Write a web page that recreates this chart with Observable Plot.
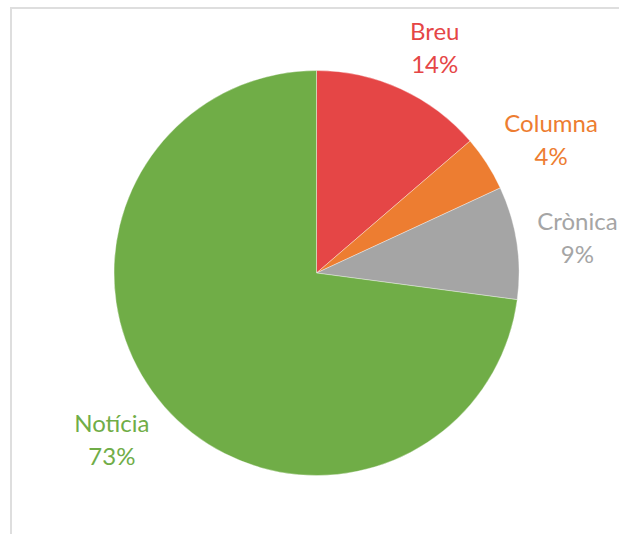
<!DOCTYPE html>
<html>
<head>
<meta charset="utf-8">
<script src="https://cdn.jsdelivr.net/npm/d3@7"></script>
<script src="https://cdn.jsdelivr.net/npm/@observablehq/plot@0.6"></script>
<style>
  html, body { margin: 0; padding: 0; background: #fff; }
  #wrap { position: relative; width: 619px; height: 534px; overflow: hidden; }
  #frame { position: absolute; left: 10px; top: 7px; right: -5px; bottom: -5px;
           border-top: 2px solid #dedede; border-left: 2px solid #dedede; pointer-events: none; }
  #chart { position: absolute; left: 0; top: 0; }
</style>
</head>
<body>
<div id="wrap"><div id="chart"></div><div id="frame"></div></div>
<script>
// ---- data ----
const categories = ["Breu", "Columna", "Crònica", "Notícia"];
const shares = [13.7, 4.4, 9.0, 72.9];           // percent
const colors = ["#E54646", "#ED7D31", "#A5A5A5", "#70AD47"];

// ---- build slices ----
const total = d3.sum(shares);
const arcs = d3.pie().sort(null).value(d => d)(shares);
const fontSize = 24;
const fontFamily = "Lato, 'Open Sans', sans-serif";
const ctx = document.createElement("canvas").getContext("2d");
ctx.font = `${fontSize}px Lato`;

const slices = categories.map((name, i) => {
  const a = arcs[i];
  const mid = (a.startAngle + a.endAngle) / 2;
  const label = `${name}\n${Math.round(shares[i] / total * 100)}%`;
  const w = d3.max(label.split("\n"), s => ctx.measureText(s).width);
  const h = 55; // label block height in px
  return { name, value: shares[i], color: colors[i], startAngle: a.startAngle, endAngle: a.endAngle, mid, label, w, h };
});

// plot geometry (px)
const W = 619, H = 534, cx = 316.5, cy = 273, R = 202.5;
const xDomain = [-cx / R, (W - cx) / R];
const yDomain = [-(H - cy) / R, cy / R];

// label positions in data units (outside end, Excel-like)
const rl = 1.1;
for (const s of slices) {
  const sx = Math.sin(s.mid), sy = Math.cos(s.mid);
  const px = rl * sx + (sx >= 0 ? 1 : -1) * (s.w / 2) / R;
  const py = rl * sy + (sy * (s.h / 2)) / R;
  s.lx = px; s.ly = py;
}

const pieMark = (index, scales) => {
  const g = d3.create("svg:g");
  const x0 = scales.x(0), y0 = scales.y(0);
  const r = scales.x(1) - scales.x(0);
  const arc = d3.arc().innerRadius(0).outerRadius(r);
  g.selectAll("path").data(slices).join("path")
    .attr("transform", `translate(${x0},${y0})`)
    .attr("d", d => arc(d))
    .attr("fill", d => d.color)
    .attr("stroke", "rgba(255,255,255,0.45)")
    .attr("stroke-width", 0.8);
  return g.node();
};

const chart = Plot.plot({
  width: W, height: H,
  margin: 0,
  x: { domain: xDomain, axis: null },
  y: { domain: yDomain, axis: null },
  style: { background: "transparent", overflow: "visible" },
  marks: [
    pieMark,
    Plot.text(slices, {
      x: "lx", y: "ly", text: "label",
      fill: d => d.color,
      fontSize, fontFamily,
      lineHeight: 1.375,
      textAnchor: "middle", lineAnchor: "middle"
    })
  ]
});
document.getElementById("chart").appendChild(chart);
</script>
</body>
</html>
